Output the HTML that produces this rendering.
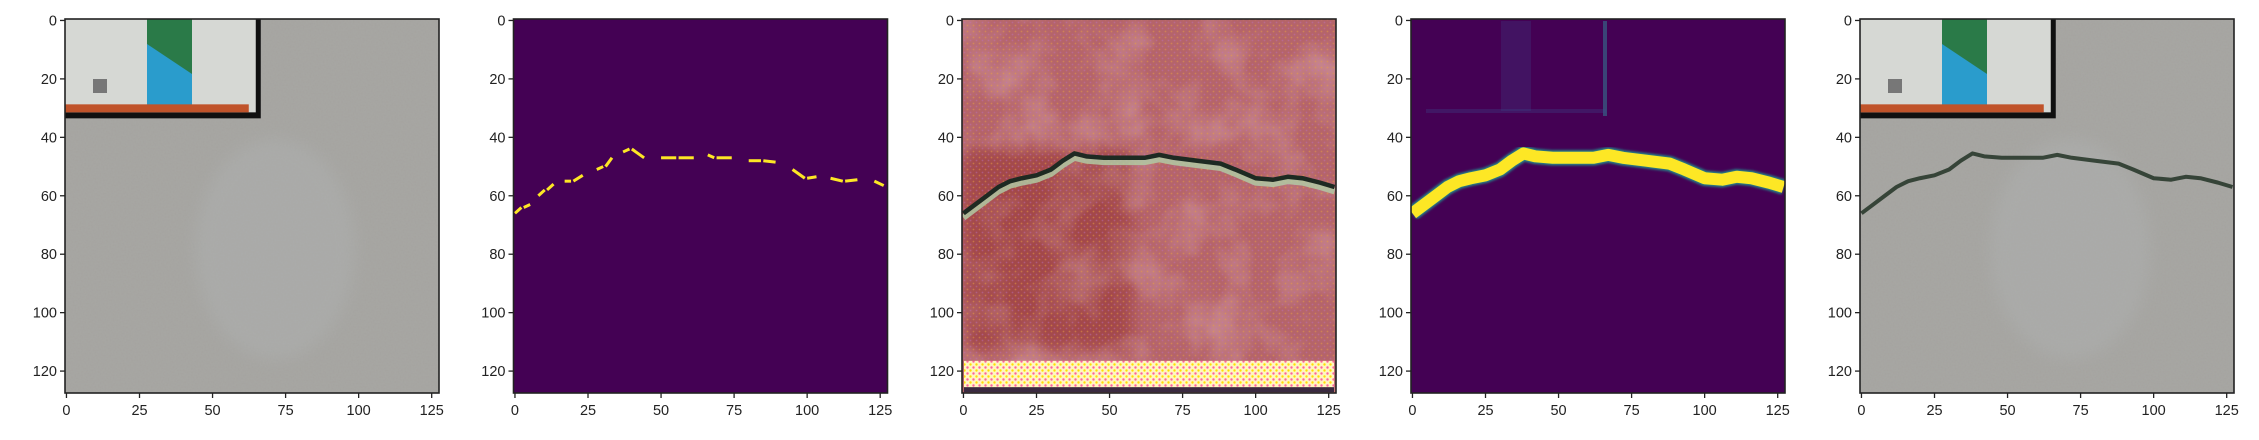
<!DOCTYPE html>
<html><head><meta charset="utf-8"><style>
html,body{margin:0;padding:0;background:#fff;}
svg{display:block;font-family:"Liberation Sans","DejaVu Sans",sans-serif;}
</style></head><body>
<svg id="fig" width="2259" height="440" viewBox="0 0 2259 440" xmlns="http://www.w3.org/2000/svg">
<defs id="defs">
<filter id="grain" x="0" y="0" width="100%" height="100%">
<feTurbulence type="fractalNoise" baseFrequency="0.6" numOctaves="2" seed="3" result="n"/>
<feColorMatrix type="matrix" values="0 0 0 0 0.5  0 0 0 0 0.5  0 0 0 0 0.5  0 0 0 0.18 0" />
</filter>
<filter id="blotch" x="0" y="0" width="100%" height="100%">
<feTurbulence type="fractalNoise" baseFrequency="0.02" numOctaves="3" seed="7"/>
<feColorMatrix type="matrix" values="0 0 0 0 0.95  0 0 0 0 0.75  0 0 0 0 0.8  0 0 0 0.9 -0.35" />
</filter>
<pattern id="dots" width="6" height="6" patternUnits="userSpaceOnUse">
<rect width="6" height="6" fill="none"/>
<circle cx="1.5" cy="1.5" r="0.9" fill="#e8a040" opacity="0.5"/>
<circle cx="4.5" cy="4.5" r="0.9" fill="#c070c0" opacity="0.45"/>
</pattern>
<pattern id="band" width="6" height="6" patternUnits="userSpaceOnUse">
<rect width="6" height="6" fill="#fff6c0"/>
<circle cx="1.5" cy="1.5" r="1.2" fill="#ff60a0"/>
<circle cx="4.5" cy="4.5" r="1.2" fill="#ffe000"/>
</pattern>
<filter id="blur1" x="-30%" y="-30%" width="160%" height="160%"><feGaussianBlur stdDeviation="8"/></filter>
<filter id="blur2"><feGaussianBlur stdDeviation="1.2"/></filter>
</defs>
<g id="panels"></g>
</svg>
<script>
// crack centerline (data units: column, row)
const crackX = [0, 4, 8, 12, 16, 20, 25, 30, 34, 38, 42, 48, 55, 62, 67, 72, 80, 88, 93, 100, 106, 111, 116, 122, 127];
const crackY = [66, 63, 60, 57, 55, 54, 53, 51, 48, 45.5, 46.5, 47, 47, 47, 46, 47, 48, 49, 51, 54, 54.5, 53.5, 54, 55.5, 57];
// binary mask segments (gaps in the thresholded crack)
const maskX = [0, 3, 6, 8, 11, 14, 17, 20, 24, 28, 31, 34, 37, 40, 45, 50, 56, 62, 66, 69, 75, 80, 85, 90, 95, 100, 104, 108, 113, 118, 123, 127];
const maskY = [66, 64, 63, 60, 58, 56, 55, 55, 53, 51, 50, 47, 45, 44, 47, 47, 47, 47, 46, 47, 47, 48, 48, 48.5, 51, 54, 53.5, 54, 55, 54.5, 55, 56.5];
const xTicks = [0, 25, 50, 75, 100, 125];
const yTicks = [0, 20, 40, 60, 80, 100, 120];
const panelLefts = [65, 513.5, 962, 1411, 1860];

const NS = "http://www.w3.org/2000/svg";
const TOP = 19, SIZE = 374, N = 128;
const root = document.getElementById('panels');
const defs = document.getElementById('defs');
function el(tag, attrs, parent){const e=document.createElementNS(NS,tag);for(const k in attrs)e.setAttribute(k,attrs[k]);(parent||root).appendChild(e);return e;}
function sx(L,v){return L + (v+0.5)*SIZE/N;}
function sy(v){return TOP + (v+0.5)*SIZE/N;}
function pts(L,xs,ys){return xs.map((x,i)=>sx(L,x)+','+sy(ys[i])).join(' ');}

function concrete(g,L){
  el('rect',{x:L,y:TOP,width:SIZE,height:SIZE,fill:'#a4a39f'},g);
  el('rect',{x:L,y:TOP,width:SIZE,height:SIZE,filter:'url(#grain)'},g);
  el('ellipse',{cx:L+210,cy:TOP+230,rx:80,ry:110,fill:'#b4b8ba',opacity:0.3,filter:'url(#blur1)'},g);
  const W=67*SIZE/N, H=34*SIZE/N;
  el('rect',{x:L,y:TOP,width:W,height:H,fill:'#101010'},g);
  el('rect',{x:L,y:TOP,width:W-5,height:H-6,fill:'#d6d8d4'},g);
  el('rect',{x:L+82,y:TOP,width:45,height:H-10,fill:'#2a9ccc'},g);
  el('polygon',{points:`${L+82},${TOP} ${L+127},${TOP} ${L+127},${TOP+55} ${L+82},${TOP+25}`,fill:'#2a7a48'},g);
  el('rect',{x:L+28,y:TOP+60,width:14,height:14,fill:'#777'},g);
  el('rect',{x:L,y:TOP+H-14,width:W-12,height:8,fill:'#c0532a'},g);
}
function axes(g,L,idx){
  el('rect',{x:L,y:TOP,width:SIZE,height:SIZE,fill:'none',stroke:'#222',"stroke-width":1.6},g);
  xTicks.forEach(t=>{
    const x=sx(L,t);
    const tk=el('line',{x1:x,y1:TOP+SIZE,x2:x,y2:TOP+SIZE+5,stroke:'#222',"stroke-width":1.3},g);
    
    
    const tx=el('text',{x:x,y:TOP+SIZE+22,"text-anchor":"middle","font-size":14.5,fill:'#222'},g);
    tx.textContent=t;
    
    
  });
  yTicks.forEach(t=>{
    const y=sy(t);
    const tk=el('line',{x1:L-5,y1:y,x2:L,y2:y,stroke:'#222',"stroke-width":1.3},g);
    
    
    const tx=el('text',{x:L-8,y:y+5,"text-anchor":"end","font-size":14.5,fill:'#222'},g);
    tx.textContent=t;
    
    
  });
}
panelLefts.forEach((L,i)=>{
  const g=el('g',{});
  
  
  const cp=el('clipPath',{id:'clip'+i},defs);
  el('rect',{x:L,y:TOP,width:SIZE,height:SIZE},cp);
  const im=el('g',{"clip-path":'url(#clip'+i+')'},g);
  if(i===0||i===4){
    concrete(im,L);
    if(i===4){
      const c=el('polyline',{points:pts(L,crackX,crackY),fill:'none',stroke:'#2a3a2c',"stroke-width":4,"stroke-linejoin":"round",opacity:0.9},im);
      
      
    }
  } else if(i===1){
    el('rect',{x:L,y:TOP,width:SIZE,height:SIZE,fill:'#440154'},im);
    for(let k=0;k<maskX.length-1;k++){
      if(k%3===2) continue;
      const s=el('line',{x1:sx(L,maskX[k]),y1:sy(maskY[k]),x2:sx(L,maskX[k+1]-0.8),y2:sy(maskY[k+1]),stroke:'#fde725',"stroke-width":3},im);
      
      
    }
  } else if(i===2){
    el('rect',{x:L,y:TOP,width:SIZE,height:SIZE,fill:'#b5646a'},im);
    el('rect',{x:L,y:TOP+130,width:170,height:200,fill:'#9c3e3c',opacity:0.7,filter:'url(#blur1)'},im);
    el('rect',{x:L,y:TOP,width:SIZE,height:SIZE,filter:'url(#blotch)',opacity:0.6},im);
    el('rect',{x:L,y:TOP,width:SIZE,height:SIZE,fill:'url(#dots)'},im);
    el('rect',{x:L+2,y:sy(116.5),width:SIZE-4,height:SIZE*10/N,fill:'url(#band)'},im);
    el('rect',{x:L+2,y:sy(125.5),width:SIZE-4,height:5,fill:'#3a2a40'},im);
    el('polyline',{points:pts(L,crackX,crackY.map(v=>v+1.5)),fill:'none',stroke:'#b0d0a8',"stroke-width":6,opacity:0.8},im);
    const c=el('polyline',{points:pts(L,crackX,crackY),fill:'none',stroke:'#1e2a22',"stroke-width":4.5,"stroke-linejoin":"round"},im);
    
    
  } else {
    el('rect',{x:L,y:TOP,width:SIZE,height:SIZE,fill:'#440154'},im);
    el('rect',{x:L+90,y:TOP+2,width:30,height:90,fill:'#3b4a8c',opacity:0.25},im);
    el('rect',{x:L+192,y:TOP+2,width:4,height:95,fill:'#2f8a9a',opacity:0.5},im);
    el('line',{x1:L+15,y1:TOP+92,x2:L+195,y2:TOP+92,stroke:'#3b4a8c',"stroke-width":4,opacity:0.3},im);
    el('polyline',{points:pts(L,crackX,crackY),fill:'none',stroke:'#21918c',"stroke-width":15,"stroke-linejoin":"round",filter:'url(#blur2)'},im);
    const c=el('polyline',{points:pts(L,crackX,crackY),fill:'none',stroke:'#fde725',"stroke-width":12,"stroke-linejoin":"round"},im);
    
    
  }
  axes(g,L,i);
});
</script>
</body></html>
